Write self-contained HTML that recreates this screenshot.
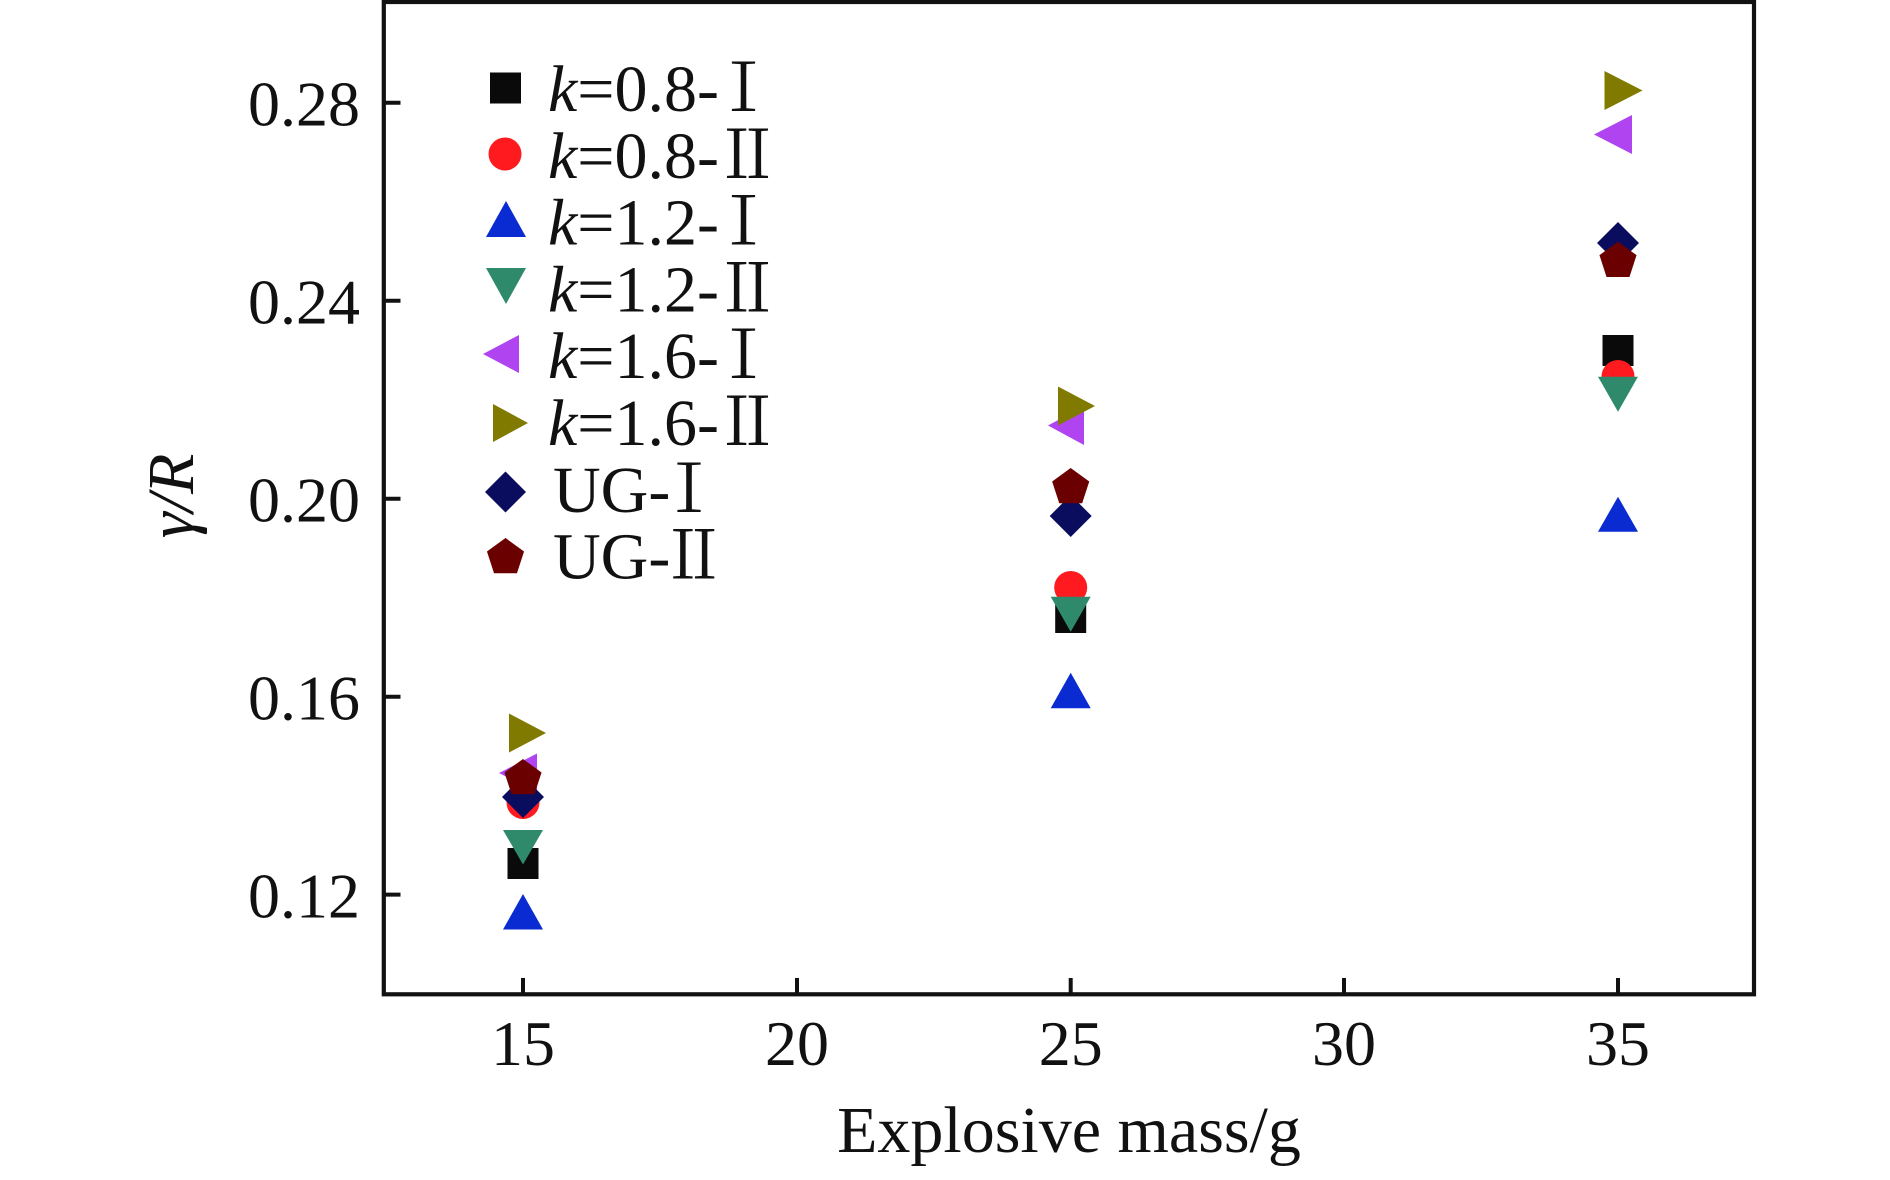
<!DOCTYPE html>
<html>
<head>
<meta charset="utf-8">
<style>
  html, body { margin: 0; padding: 0; background: #ffffff; }
  svg { display: block; }
  .t { font-family: "Liberation Serif", "Noto Serif CJK SC", serif; fill: #111; }
  .n { font-family: "Noto Serif CJK SC", "Liberation Serif", serif; fill: #111; }
</style>
</head>
<body>
<svg width="1890" height="1180" viewBox="0 0 1890 1180" xmlns="http://www.w3.org/2000/svg">
  <rect x="0" y="0" width="1890" height="1180" fill="#ffffff"/>

  <!-- frame -->
  <rect x="383.8" y="2" width="1370.2" height="992.3" fill="none" stroke="#111" stroke-width="4.2"/>

  <!-- x ticks -->
  <g stroke="#111" stroke-width="4">
    <line x1="523" y1="994" x2="523" y2="978"/>
    <line x1="797" y1="994" x2="797" y2="978"/>
    <line x1="1070.7" y1="994" x2="1070.7" y2="978"/>
    <line x1="1344" y1="994" x2="1344" y2="978"/>
    <line x1="1618" y1="994" x2="1618" y2="978"/>
    <!-- y ticks -->
    <line x1="384" y1="102.8" x2="400.5" y2="102.8"/>
    <line x1="384" y1="300.8" x2="400.5" y2="300.8"/>
    <line x1="384" y1="498.7" x2="400.5" y2="498.7"/>
    <line x1="384" y1="696.7" x2="400.5" y2="696.7"/>
    <line x1="384" y1="894.6" x2="400.5" y2="894.6"/>
  </g>

  <!-- y tick labels -->
  <g class="t" font-size="64" text-anchor="end">
    <text x="360" y="125.7">0.28</text>
    <text x="360" y="323.7">0.24</text>
    <text x="360" y="521.7">0.20</text>
    <text x="360" y="719.7">0.16</text>
    <text x="360" y="917.5">0.12</text>
  </g>

  <!-- x tick labels -->
  <g class="t" font-size="64" text-anchor="middle">
    <text x="523" y="1065">15</text>
    <text x="797" y="1065">20</text>
    <text x="1070.7" y="1065">25</text>
    <text x="1344" y="1065">30</text>
    <text x="1618" y="1065">35</text>
  </g>

  <!-- axis titles -->
  <text class="t" x="1069" y="1152" font-size="66" text-anchor="middle">Explosive mass/g</text>
  <text class="t" transform="translate(193,496) rotate(-90)" font-size="66" text-anchor="middle" font-style="italic">γ/R</text>

  <!-- legend markers -->
  <rect x="490" y="72.5" width="31" height="31" fill="#0a0a0a"/>
  <circle cx="505" cy="154" r="16.5" fill="#fe1a1e"/>
  <polygon points="506,201 526,237 486,237" fill="#0a2bd2"/>
  <polygon points="486,268 526,268 506,304" fill="#2f8a6c"/>
  <polygon points="483,354 519,335 519,373" fill="#b044f0"/>
  <polygon points="493,404 493,442 528,423" fill="#807a00"/>
  <polygon points="505.5,471.5 526,492 505.5,512.5 485,492" fill="#0a0d5e"/>
  <polygon points="505.5,538 524.05,551.47 516.96,573.28 494.04,573.28 486.95,551.47" fill="#6b0000"/>

  <!-- legend text -->
  <g class="t" font-size="66">
    <text x="548" y="111"><tspan font-style="italic">k</tspan>=0.8-</text>
    <text x="548" y="177.8"><tspan font-style="italic">k</tspan>=0.8-</text>
    <text x="548" y="244.6"><tspan font-style="italic">k</tspan>=1.2-</text>
    <text x="548" y="311.4"><tspan font-style="italic">k</tspan>=1.2-</text>
    <text x="548" y="378.2"><tspan font-style="italic">k</tspan>=1.6-</text>
    <text x="548" y="445"><tspan font-style="italic">k</tspan>=1.6-</text>
    <text x="553" y="511.8">UG-</text>
    <text x="553" y="578.6">UG-</text>
  </g>
  <g class="n" font-size="66" text-anchor="middle">
    <text x="743.5" y="111">Ⅰ</text>
    <text x="747.5" y="177.8">Ⅱ</text>
    <text x="743.5" y="244.6">Ⅰ</text>
    <text x="747.5" y="311.4">Ⅱ</text>
    <text x="743.5" y="378.2">Ⅰ</text>
    <text x="747.5" y="445">Ⅱ</text>
    <text x="689" y="511.8">Ⅰ</text>
    <text x="693.7" y="578.6">Ⅱ</text>
  </g>

  <!-- data: squares (k=0.8-I) -->
  <g fill="#0a0a0a">
    <rect x="507.5" y="848" width="31" height="31"/>
    <rect x="1055.2" y="602" width="31" height="31"/>
    <rect x="1602.5" y="335" width="31" height="31"/>
  </g>
  <!-- circles (k=0.8-II) -->
  <g fill="#fe1a1e">
    <circle cx="523" cy="802.5" r="16.5"/>
    <circle cx="1070.7" cy="587.5" r="16.5"/>
    <circle cx="1618" cy="376.5" r="16.5"/>
  </g>
  <!-- up triangles (k=1.2-I) -->
  <g fill="#0a2bd2">
    <polygon points="523,894 543,929.5 503,929.5"/>
    <polygon points="1070.7,672.7 1090.7,708.3 1050.7,708.3"/>
    <polygon points="1618,496.7 1638,531.7 1598,531.7"/>
  </g>
  <!-- down triangles (k=1.2-II) -->
  <g fill="#2f8a6c">
    <polygon points="503,830 543,830 523,864.5"/>
    <polygon points="1050.7,596.7 1090.7,596.7 1070.7,631.7"/>
    <polygon points="1598,376.7 1638,376.7 1618,411.7"/>
  </g>
  <!-- left triangles (k=1.6-I) -->
  <g fill="#b044f0">
    <polygon points="499,773 537,753.5 537,792.5"/>
    <polygon points="1048,425.5 1084,406 1084,445"/>
    <polygon points="1594,134.5 1632,115 1632,154"/>
  </g>
  <!-- right triangles (k=1.6-II) -->
  <g fill="#807a00">
    <polygon points="509,713.5 509,752.5 546,733"/>
    <polygon points="1058,386.5 1058,425.5 1095,406"/>
    <polygon points="1604.5,71 1604.5,110 1642.5,90.5"/>
  </g>
  <!-- diamonds (UG-I) -->
  <g fill="#0a0d5e">
    <polygon points="523,776 544,797 523,818 502,797"/>
    <polygon points="1070.7,495 1091.7,516 1070.7,537 1049.7,516"/>
    <polygon points="1618,222 1639,243 1618,264 1597,243"/>
  </g>
  <!-- pentagons (UG-II) -->
  <g fill="#6b0000">
    <polygon points="523,759 541.55,772.47 534.46,794.28 511.54,794.28 504.45,772.47"/>
    <polygon points="1070.7,468 1089.25,481.47 1082.16,503.28 1059.24,503.28 1052.15,481.47"/>
    <polygon points="1618,241.7 1636.55,255.17 1629.46,276.98 1606.54,276.98 1599.45,255.17"/>
  </g>
</svg>
</body>
</html>
